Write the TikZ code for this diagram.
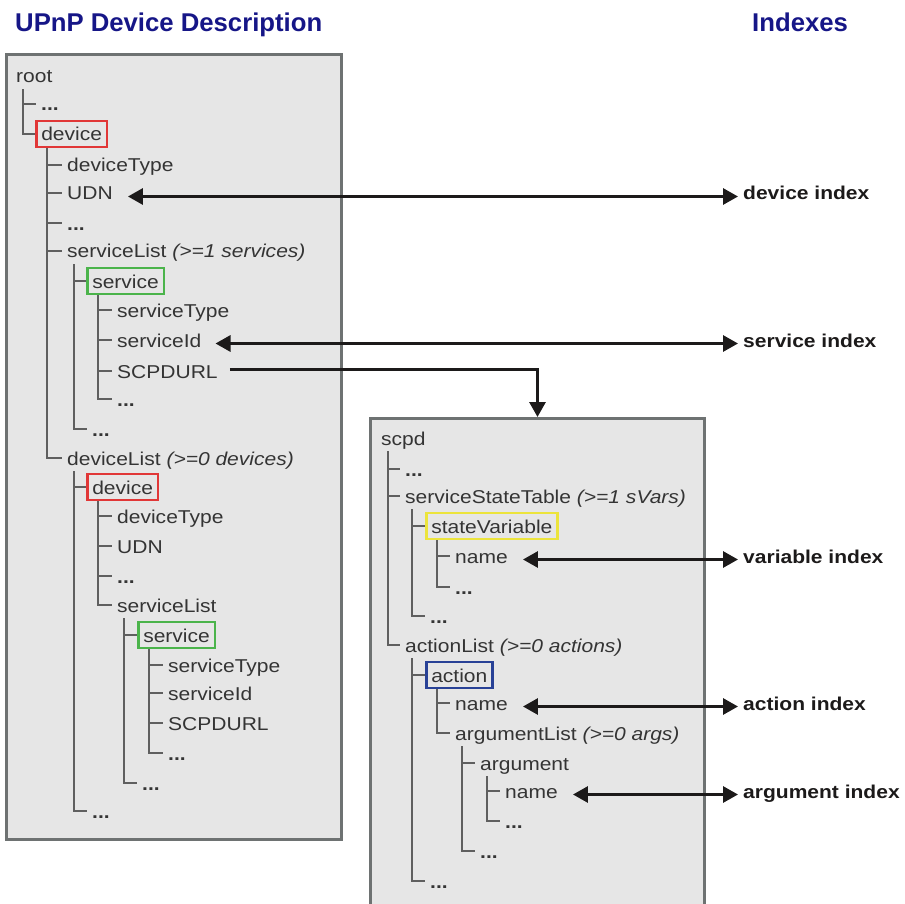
\documentclass[tikz,border=0pt]{standalone}
\usepackage{fontspec}
\setmainfont{Liberation Sans}[FakeStretch=1.13]
\newfontfamily\headfont{Liberation Sans}
\usetikzlibrary{arrows.meta}

\definecolor{headnavy}{RGB}{22,22,135}
\definecolor{textgray}{RGB}{52,52,52}
\definecolor{treegray}{RGB}{95,95,95}
\definecolor{panelfill}{RGB}{230,230,230}
\definecolor{panelgray}{RGB}{110,114,114}
\definecolor{arrowblack}{RGB}{28,26,26}
\definecolor{tagred}{RGB}{225,55,55}
\definecolor{taggreen}{RGB}{75,180,75}
\definecolor{tagyellow}{RGB}{236,228,60}
\definecolor{tagblue}{RGB}{40,65,150}

\newcommand{\itemfont}{\fontsize{18.6pt}{22pt}\selectfont}
\newcommand{\more}{\textbf{...}}

\tikzset{
  heading/.style={anchor=base west, inner sep=0pt, text=headnavy,
    font=\headfont\bfseries\fontsize{25.7pt}{30pt}\selectfont},
  panel/.style={draw=panelgray, line width=3pt, fill=panelfill,
    inner sep=0pt, anchor=north west},
  item/.style={anchor=base west, inner xsep=5pt, inner ysep=4pt,
    text height=16pt, text depth=2pt, text=textgray, font=\itemfont},
  tagbox/.style={item, draw=#1, line width=2.5pt},
  idxlabel/.style={anchor=base west, inner xsep=5pt, inner ysep=4pt,
    text height=16pt, text depth=2pt, text=arrowblack, font=\itemfont\bfseries},
  tree/.style={draw=treegray, line width=2pt},
  idxarrow/.style={draw=arrowblack, line width=3pt, {Triangle[length=15pt,width=16pt]}-{Triangle[length=15pt,width=16pt]}},
  linkarrow/.style={draw=arrowblack, line width=3pt, -{Triangle[length=15pt,width=16pt]}},
}

\begin{document}
\begin{tikzpicture}[x=1pt, y=-1pt]
\useasboundingbox (0,0) rectangle (905,904);

% headings
\node[heading] (hdesc) at (15,32) {UPnP Device Description};
\node[heading] (hidx) at (752,32) {Indexes};

% panels
\node[panel, minimum width=335pt, minimum height=785pt] (devpanel) at (5,53) {};
\node[panel, minimum width=334pt, minimum height=520pt] (scpdpanel) at (369,417) {};

% device description tree
\node[item] (root)     at (11,83)  {root};
\node[item] (l1)       at (36,111) {\more};
\node[tagbox=tagred] (dev) at (35,141) {device};
\node[item] (devtype)  at (62,172) {deviceType};
\node[item] (udn)      at (62,200) {UDN};
\node[item] (d2)       at (62,230) {\more};
\node[item] (svclist)  at (62,258) {serviceList \textit{(>=1 services)}};
\node[tagbox=taggreen] (svc) at (86,288) {service};
\node[item] (svctype)  at (112,317) {serviceType};
\node[item] (svcid)    at (112,347) {serviceId};
\node[item] (scpdurl)  at (112,378) {SCPDURL};
\node[item] (s4)       at (112,406) {\more};
\node[item] (s3)       at (87,436)  {\more};
\node[item] (devlist)  at (62,465)  {deviceList \textit{(>=0 devices)}};
\node[tagbox=tagred] (dev2) at (86,494) {device};
\node[item] (devtype2) at (112,523) {deviceType};
\node[item] (udn2)     at (112,553) {UDN};
\node[item] (d4)       at (112,583) {\more};
\node[item] (svclist2) at (112,612) {serviceList};
\node[tagbox=taggreen] (svc2) at (137,642) {service};
\node[item] (svctype2) at (163,672) {serviceType};
\node[item] (svcid2)   at (163,700) {serviceId};
\node[item] (scpdurl2) at (163,730) {SCPDURL};
\node[item] (s6)       at (163,760) {\more};
\node[item] (s5)       at (137,790) {\more};
\node[item] (d3)       at (87,818)  {\more};

% service description tree
\node[item] (scpd)     at (376,445) {scpd};
\node[item] (r1)       at (400,476) {\more};
\node[item] (sst)      at (400,503) {serviceStateTable \textit{(>=1 sVars)}};
\node[tagbox=tagyellow] (sv) at (425,533) {stateVariable};
\node[item] (svname)   at (450,563) {name};
\node[item] (r3)       at (450,594) {\more};
\node[item] (r2)       at (425,623) {\more};
\node[item] (al)       at (400,652) {actionList \textit{(>=0 actions)}};
\node[tagbox=tagblue] (act) at (425,682) {action};
\node[item] (actname)  at (450,710) {name};
\node[item] (arglist)  at (450,740) {argumentList \textit{(>=0 args)}};
\node[item] (arg)      at (475,770) {argument};
\node[item] (argname)  at (500,798) {name};
\node[item] (r5)       at (500,828) {\more};
\node[item] (r4)       at (475,858) {\more};
\node[item] (r2b)      at (425,888) {\more};

% index labels
\node[idxlabel] (devidx) at (738,200) {device index};
\node[idxlabel] (svcidx) at (738,347) {service index};
\node[idxlabel] (varidx) at (738,563) {variable index};
\node[idxlabel] (actidx) at (738,710) {action index};
\node[idxlabel] (argidx) at (738,798) {argument index};

% tree branches
\foreach \p/\c in {root/l1, root/dev,
    dev/devtype, dev/udn, dev/d2, dev/svclist, dev/devlist,
    svclist/svc, svclist/s3,
    svc/svctype, svc/svcid, svc/scpdurl, svc/s4,
    devlist/dev2, devlist/d3,
    dev2/devtype2, dev2/udn2, dev2/d4, dev2/svclist2,
    svclist2/svc2, svclist2/s5,
    svc2/svctype2, svc2/svcid2, svc2/scpdurl2, svc2/s6,
    scpd/r1, scpd/sst, scpd/al,
    sst/sv, sst/r2,
    sv/svname, sv/r3,
    al/act, al/r2b,
    act/actname, act/arglist,
    arglist/arg, arglist/r4,
    arg/argname, arg/r5}
  \draw[tree] ([xshift=12pt]\p.south west) |- (\c.west);

% index arrows
\draw[idxarrow] ([xshift=10pt,yshift=-3.5pt]udn.east) -- ([yshift=-3.5pt]devidx.west);
\draw[idxarrow] ([xshift=9pt,yshift=-3.5pt]svcid.east) -- ([yshift=-3.5pt]svcidx.west);
\draw[idxarrow] ([xshift=10pt,yshift=-3.5pt]svname.east) -- ([yshift=-3.5pt]varidx.west);
\draw[idxarrow] ([xshift=10pt,yshift=-3.5pt]actname.east) -- ([yshift=-3.5pt]actidx.west);
\draw[idxarrow] ([xshift=10pt,yshift=-3.5pt]argname.east) -- ([yshift=-3.5pt]argidx.west);

% link from the service entry to its description
\draw[linkarrow] ([xshift=7pt,yshift=2pt]scpdurl.east) -| (scpdpanel.north);
\end{tikzpicture}
\end{document}
